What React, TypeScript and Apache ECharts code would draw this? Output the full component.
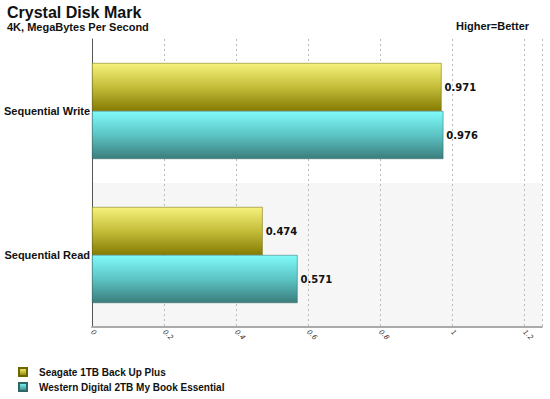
import React, { useEffect, useRef } from "react";
import * as echarts from "echarts";

const categories = ["Sequential Read", "Sequential Write"];
const seriesNames = ["Seagate 1TB Back Up Plus", "Western Digital 2TB My Book Essential"];
const seagate = [0.474, 0.971];
const wd = [0.571, 0.976];
const xTicks = [0, 0.2, 0.4, 0.6, 0.8, 1, 1.2];

const yellowGrad = new echarts.graphic.LinearGradient(0, 0, 0, 1, [
  { offset: 0, color: "#f6f27c" },
  { offset: 0.5, color: "#c4bd3a" },
  { offset: 1, color: "#857c02" },
]);
const cyanGrad = new echarts.graphic.LinearGradient(0, 0, 0, 1, [
  { offset: 0, color: "#80fafa" },
  { offset: 0.5, color: "#5cc4c4" },
  { offset: 1, color: "#3b7d7d" },
]);

export default function App() {
  const ref = useRef<HTMLDivElement>(null);
  useEffect(() => {
    const chart = echarts.init(ref.current!, null, { renderer: "svg" });
    const labelStyle = {
      show: true,
      position: "right" as const,
      distance: 3,
      fontFamily: "DejaVu Sans",
      fontWeight: "bold" as const,
      fontSize: 10,
      color: "#111",
      formatter: (p: any) => p.value.toFixed(3),
    };
    chart.setOption({
      animation: false,
      backgroundColor: "#fff",
      title: [
        {
          text: "Crystal Disk Mark",
          left: 7,
          top: 4,
          padding: 0,
          textStyle: { fontFamily: "Liberation Sans", fontWeight: "bold", fontSize: 16, lineHeight: 16, color: "#111" },
        },
        {
          text: "4K, MegaBytes Per Second",
          left: 7,
          top: 21,
          padding: 0,
          textStyle: { fontFamily: "Liberation Sans", fontWeight: "bold", fontSize: 11, lineHeight: 11, color: "#111" },
        },
        {
          text: "Higher=Better",
          left: 456,
          top: 20,
          padding: 0,
          textStyle: { fontFamily: "Liberation Sans", fontWeight: "bold", fontSize: 11, lineHeight: 11, color: "#111" },
        },
      ],
      legend: {
        orient: "vertical",
        left: 18,
        top: 367,
        height: 40,
        padding: 0,
        icon: "rect",
        itemWidth: 8,
        itemHeight: 8,
        itemGap: 5,
        textStyle: { fontFamily: "Liberation Sans", fontWeight: "bold", fontSize: 10, color: "#111", padding: [0, 0, 0, 7] },
        data: seriesNames,
      },
      grid: { left: 92, right: 8, top: 39, bottom: 72, containLabel: false },
      xAxis: {
        type: "value",
        min: 0,
        max: 1.25,
        interval: 0.2,
        axisLine: { show: true, lineStyle: { color: "#aaa", width: 2 } },
        axisTick: { show: false },
        axisLabel: {
          rotate: -45,
          fontSize: 7,
          fontFamily: "DejaVu Sans",
          fontStyle: "italic",
          color: "#333",
          showMaxLabel: false,
          margin: 4,
          formatter: (v: number) => (xTicks.some((t) => Math.abs(t - v) < 1e-9) ? String(+v.toFixed(1)) : ""),
        },
        splitLine: { show: true, lineStyle: { color: "#bbb", type: [2, 3], width: 1 } },
      },
      yAxis: {
        type: "category",
        data: categories,
        axisLine: { show: true, lineStyle: { color: "#555", width: 1 } },
        axisTick: { show: false },
        axisLabel: {
          fontFamily: "Liberation Sans",
          fontWeight: "bold",
          fontSize: 11,
          color: "#111",
          margin: 2,
        },
        splitArea: { show: true, areaStyle: { color: ["#f6f6f6", "#ffffff"] } },
      },
      series: [
        {
          name: seriesNames[0],
          type: "bar",
          data: seagate,
          barWidth: 48,
          barGap: "0%",
          itemStyle: { color: yellowGrad, borderColor: "#6b6500", borderWidth: 0.5 },
          label: labelStyle,
        },
        {
          name: seriesNames[1],
          type: "bar",
          data: wd,
          barWidth: 48,
          barGap: "0%",
          itemStyle: { color: cyanGrad, borderColor: "#2f6767", borderWidth: 0.5 },
          label: labelStyle,
        },
      ],
    });
    return () => chart.dispose();
  }, []);
  return <div ref={ref} style={{ width: 550, height: 399, position: "absolute", left: 0, top: 0 }} />;
}
